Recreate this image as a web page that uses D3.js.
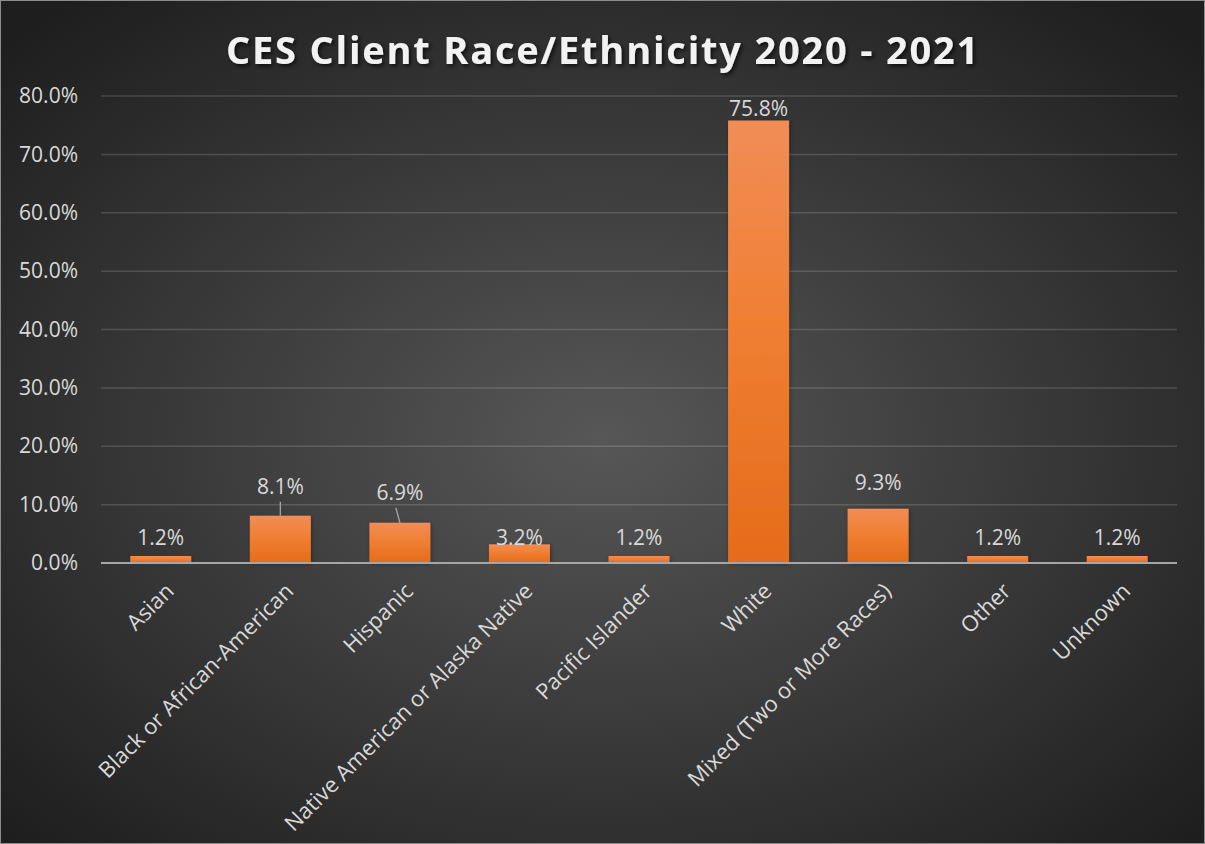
<!DOCTYPE html>
<html>
<head>
<meta charset="utf-8">
<script src="https://cdn.jsdelivr.net/npm/d3@7"></script>
<style>
  html, body { margin: 0; padding: 0; background: #2a2a2a; }
  svg { display: block; }
</style>
</head>
<body>
<script>
// Chart data
const categories = [
  "Asian", "Black or African-American", "Hispanic",
  "Native American or Alaska Native", "Pacific Islander", "White",
  "Mixed (Two or More Races)", "Other", "Unknown"
];
const values = [1.2, 8.1, 6.9, 3.2, 1.2, 75.8, 9.3, 1.2, 1.2];
const yTicks = [0, 10, 20, 30, 40, 50, 60, 70, 80];
const titleText = "CES Client Race/Ethnicity 2020 - 2021";

const W = 1205, H = 844;
const margin = { left: 101, right: 28, top: 96, bottom: 281 };

const svg = d3.select("body").append("svg")
  .attr("width", W).attr("height", H);

const defs = svg.append("defs");

// Dark radial background
const bg = defs.append("radialGradient").attr("id", "bg")
  .attr("cx", "50%").attr("cy", "52%").attr("r", "68%");
bg.append("stop").attr("offset", "0%").attr("stop-color", "#575757");
bg.append("stop").attr("offset", "100%").attr("stop-color", "#1e1e1e");

// Orange bar fill, lighter at the top
const barGrad = defs.append("linearGradient").attr("id", "barFill")
  .attr("x1", 0).attr("y1", 0).attr("x2", 0).attr("y2", 1);
barGrad.append("stop").attr("offset", "0%").attr("stop-color", "#f18d57");
barGrad.append("stop").attr("offset", "45%").attr("stop-color", "#f07f33");
barGrad.append("stop").attr("offset", "100%").attr("stop-color", "#e46c1a");

const shadow = defs.append("filter").attr("id", "titleShadow")
  .attr("x", "-10%").attr("y", "-30%").attr("width", "120%").attr("height", "160%");
shadow.append("feDropShadow").attr("dx", 2).attr("dy", 2)
  .attr("stdDeviation", 2).attr("flood-color", "#000").attr("flood-opacity", 0.7);

const barShadow = defs.append("filter").attr("id", "barShadow")
  .attr("x", "-20%").attr("y", "-10%").attr("width", "140%").attr("height", "120%");
barShadow.append("feDropShadow").attr("dx", 1).attr("dy", 1)
  .attr("stdDeviation", 2).attr("flood-color", "#000").attr("flood-opacity", 0.35);

svg.append("rect").attr("width", W).attr("height", H).attr("fill", "url(#bg)");
svg.append("rect").attr("x", 0.5).attr("y", 0.5)
  .attr("width", W - 1).attr("height", H - 1)
  .attr("fill", "none").attr("stroke", "#8c8c8c").attr("stroke-width", 1);

const plotW = W - margin.left - margin.right;
const plotH = H - margin.top - margin.bottom;

const x = d3.scaleBand().domain(categories)
  .range([margin.left, margin.left + plotW]).paddingInner(0.49).paddingOuter(0.245);
const y = d3.scaleLinear().domain([0, 80]).range([margin.top + plotH, margin.top]);

const font = "'Open Sans', 'Noto Sans', sans-serif";
const fs = 21;

// Title
svg.append("text")
  .attr("x", 603).attr("y", 64)
  .attr("text-anchor", "middle")
  .attr("font-family", font).attr("font-weight", 700)
  .attr("font-size", 38).attr("letter-spacing", 1.8)
  .attr("fill", "#f2f2f2")
  .attr("filter", "url(#titleShadow)")
  .text(titleText);

// Gridlines
svg.append("g").selectAll("line").data(yTicks.filter(d => d > 0)).join("line")
  .attr("x1", margin.left).attr("x2", margin.left + plotW)
  .attr("y1", d => y(d)).attr("y2", d => y(d))
  .attr("stroke", "#ffffff").attr("stroke-opacity", 0.15).attr("stroke-width", 1.5);

// Y axis labels
const yAxis = d3.axisLeft(y).tickValues(yTicks)
  .tickFormat(d => d.toFixed(1) + "%").tickSize(0).tickPadding(23);
const gy = svg.append("g").attr("transform", `translate(${margin.left},0)`).call(yAxis);
gy.select(".domain").remove();
gy.selectAll("text").attr("font-family", font).attr("font-size", fs)
  .attr("fill", "#d9d9d9");

// Bars
svg.append("g").selectAll("rect").data(values).join("rect")
  .attr("x", (d, i) => x(categories[i]))
  .attr("width", x.bandwidth())
  .attr("y", d => y(d))
  .attr("height", d => y(0) - y(d))
  .attr("fill", "url(#barFill)")
  .attr("filter", "url(#barShadow)");

// Baseline
svg.append("line")
  .attr("x1", margin.left).attr("x2", margin.left + plotW)
  .attr("y1", y(0)).attr("y2", y(0))
  .attr("stroke", "#a6a6a6").attr("stroke-width", 2);

// Value labels; two sit higher with a short leader line down to the bar
const labelLift = [11, 22, 23, -1, 11, 5, 19, 11, 11];
const leaders = { 1: 0, 2: -4 };
const lg = svg.append("g");
values.forEach((v, i) => {
  const cx = x(categories[i]) + x.bandwidth() / 2;
  const top = y(v);
  const base = top - labelLift[i];
  lg.append("text")
    .attr("x", cx).attr("y", base)
    .attr("text-anchor", "middle")
    .attr("font-family", font).attr("font-size", fs)
    .attr("fill", "#d9d9d9")
    .text(v.toFixed(1) + "%");
  if (leaders[i] !== undefined) {
    lg.append("line")
      .attr("x1", cx + leaders[i]).attr("y1", base + 8)
      .attr("x2", cx).attr("y2", top)
      .attr("stroke", "#a6a6a6").attr("stroke-width", 1.3);
  }
});

// Rotated category labels
svg.append("g").selectAll("text").data(categories).join("text")
  .attr("transform", d => `translate(${x(d) + x.bandwidth() / 2 + 9},${y(0) + 24}) rotate(-45)`)
  .attr("text-anchor", "end")
  .attr("dy", "0.35em")
  .attr("font-family", font).attr("font-size", 22)
  .attr("fill", "#d9d9d9")
  .text(d => d);
</script>
</body>
</html>
